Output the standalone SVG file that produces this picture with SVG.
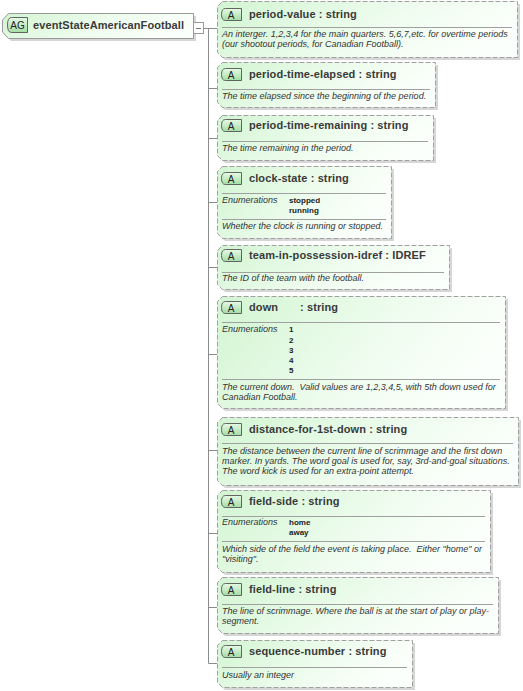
<svg xmlns="http://www.w3.org/2000/svg" width="523" height="691" viewBox="0 0 523 691">
<style>
.box{fill:url(#bg);stroke:#a0a0a0;stroke-width:1;stroke-dasharray:5 2}
.sh{fill:#d6d6d6}
.mainbox{fill:url(#bg);stroke:#9a9a9a;stroke-width:1}
.badge{fill:url(#bd);stroke:#555;stroke-width:0.9}
.bt{font-family:"Liberation Sans",Arial,sans-serif;font-size:10px;fill:#222;text-anchor:middle}
.t{font-family:"Liberation Sans",Arial,sans-serif;font-size:11px;font-weight:bold;fill:#3a3a3a;letter-spacing:0.1px}
.d{font-family:"Liberation Sans",Arial,sans-serif;font-size:9px;font-style:italic;fill:#333}
.e{font-family:"Liberation Sans",Arial,sans-serif;font-size:8px;font-weight:bold;fill:#222}
.sep{stroke:#a0a0a0;stroke-width:1}
.c{stroke:#8c8c8c;stroke-width:1;fill:none}
</style>
<defs>
<linearGradient id="bg" x1="0" y1="0" x2="1" y2="0.3">
<stop offset="0" stop-color="#d2f5d2"/>
<stop offset="0.6" stop-color="#eefcee"/>
<stop offset="1" stop-color="#fbfffb"/>
</linearGradient>
<linearGradient id="bd" x1="0" y1="0" x2="0" y2="1">
<stop offset="0" stop-color="#e6fae6"/>
<stop offset="1" stop-color="#a6dca6"/>
</linearGradient>
</defs>

<g id="connectors">
<line class="c" x1="203" y1="28.5" x2="217" y2="28.5"/>
<line class="c" x1="208.5" y1="28" x2="208.5" y2="663.5"/>
<line class="c" x1="208.5" y1="88.5" x2="217" y2="88.5"/>
<line class="c" x1="208.5" y1="138.5" x2="217" y2="138.5"/>
<line class="c" x1="208.5" y1="202.5" x2="217" y2="202.5"/>
<line class="c" x1="208.5" y1="267.5" x2="217" y2="267.5"/>
<line class="c" x1="208.5" y1="354.5" x2="217" y2="354.5"/>
<line class="c" x1="208.5" y1="450.5" x2="217" y2="450.5"/>
<line class="c" x1="208.5" y1="533.5" x2="217" y2="533.5"/>
<line class="c" x1="208.5" y1="607.5" x2="217" y2="607.5"/>
<line class="c" x1="208.5" y1="663.5" x2="217" y2="663.5"/>
</g>

<g id="eventStateAmericanFootball">
<path class="sh" d="M11 16 H196 V41 H11 L5 35 V23 Z"/>
<path class="mainbox" d="M8.5 13.5 H193.5 V38.5 H8.5 L2.5 32 V20 Z"/>
<path class="badge" d="M11.5 17.5 H27.5 V32.5 H11.5 Q7.5 32.5 7.5 25 Q7.5 17.5 11.5 17.5 Z"/>
<text class="bt" x="17.5" y="29">AG</text>
<text class="t" x="33" y="29">eventStateAmericanFootball</text>
<rect x="193.5" y="22.5" width="10" height="11" fill="#fff" stroke="#999"/>
<line x1="196" y1="28.5" x2="201" y2="28.5" stroke="#777"/>
</g>

<g id="period-value">
<path class="sh" d="M225 4 H520 V60 H225 L220 55 V9 Z"/>
<path class="box" d="M222.5 1.5 H517.5 V57.5 H222.5 L217.5 52.5 V6.5 Z"/>
<path class="badge" d="M225.5 8.5 H241.5 V20.5 H225.5 Q221.5 20.5 221.5 14.5 Q221.5 8.5 225.5 8.5 Z"/>
<text class="bt" x="231" y="18.5">A</text>
<text class="t" x="249" y="18">period-value : string</text>
<line class="sep" x1="222" y1="27.5" x2="512" y2="27.5"/>
<text class="d" x="222" y="37">An interger. 1,2,3,4 for the main quarters. 5,6,7,etc. for overtime periods</text>
<text class="d" x="222" y="47">(our shootout periods, for Canadian Football).</text>
</g>

<g id="period-time-elapsed">
<path class="sh" d="M225 65 H438 V110 H225 L220 105 V70 Z"/>
<path class="box" d="M222.5 62.5 H435.5 V107.5 H222.5 L217.5 102.5 V67.5 Z"/>
<path class="badge" d="M225.5 68.5 H241.5 V80.5 H225.5 Q221.5 80.5 221.5 74.5 Q221.5 68.5 225.5 68.5 Z"/>
<text class="bt" x="231" y="78.5">A</text>
<text class="t" x="249" y="78">period-time-elapsed : string</text>
<line class="sep" x1="222" y1="89.5" x2="430" y2="89.5"/>
<text class="d" x="222" y="99">The time elapsed since the beginning of the period.</text>
</g>

<g id="period-time-remaining">
<path class="sh" d="M225 118 H436 V163 H225 L220 158 V123 Z"/>
<path class="box" d="M222.5 115.5 H433.5 V160.5 H222.5 L217.5 155.5 V120.5 Z"/>
<path class="badge" d="M225.5 119.5 H241.5 V131.5 H225.5 Q221.5 131.5 221.5 125.5 Q221.5 119.5 225.5 119.5 Z"/>
<text class="bt" x="231" y="129.5">A</text>
<text class="t" x="249" y="129">period-time-remaining : string</text>
<line class="sep" x1="222" y1="141.5" x2="428" y2="141.5"/>
<text class="d" x="222" y="151">The time remaining in the period.</text>
</g>

<g id="clock-state">
<path class="sh" d="M225 169 H394 V241 H225 L220 236 V174 Z"/>
<path class="box" d="M222.5 166.5 H391.5 V238.5 H222.5 L217.5 233.5 V171.5 Z"/>
<path class="badge" d="M225.5 172.5 H241.5 V184.5 H225.5 Q221.5 184.5 221.5 178.5 Q221.5 172.5 225.5 172.5 Z"/>
<text class="bt" x="231" y="182.5">A</text>
<text class="t" x="249" y="182">clock-state : string</text>
<line class="sep" x1="222" y1="193.5" x2="386" y2="193.5"/>
<text class="d" x="222" y="203">Enumerations</text>
<text class="e" x="289" y="203">stopped</text>
<text class="e" x="289" y="213">running</text>
<line class="sep" x1="222" y1="219.5" x2="386" y2="219.5"/>
<text class="d" x="222" y="229">Whether the clock is running or stopped.</text>
</g>

<g id="team-in-possession-idref">
<path class="sh" d="M225 248 H452 V292 H225 L220 287 V253 Z"/>
<path class="box" d="M222.5 245.5 H449.5 V289.5 H222.5 L217.5 284.5 V250.5 Z"/>
<path class="badge" d="M225.5 249.5 H241.5 V261.5 H225.5 Q221.5 261.5 221.5 255.5 Q221.5 249.5 225.5 249.5 Z"/>
<text class="bt" x="231" y="259.5">A</text>
<text class="t" x="249" y="259">team-in-possession-idref : IDREF</text>
<line class="sep" x1="222" y1="272.5" x2="444" y2="272.5"/>
<text class="d" x="222" y="281">The ID of the team with the football.</text>
</g>

<g id="down">
<path class="sh" d="M225 299 H508 V411 H225 L220 406 V304 Z"/>
<path class="box" d="M222.5 296.5 H505.5 V408.5 H222.5 L217.5 403.5 V301.5 Z"/>
<path class="badge" d="M225.5 301.5 H241.5 V313.5 H225.5 Q221.5 313.5 221.5 307.5 Q221.5 301.5 225.5 301.5 Z"/>
<text class="bt" x="231" y="311.5">A</text>
<text class="t" x="249" y="311">down</text>
<text class="t" x="300" y="311">: string</text>
<line class="sep" x1="222" y1="322.5" x2="500" y2="322.5"/>
<text class="d" x="222" y="332">Enumerations</text>
<text class="e" x="289" y="332">1</text>
<text class="e" x="289" y="342.5">2</text>
<text class="e" x="289" y="353">3</text>
<text class="e" x="289" y="363">4</text>
<text class="e" x="289" y="373">5</text>
<line class="sep" x1="222" y1="379.5" x2="500" y2="379.5"/>
<text class="d" x="222" y="390" xml:space="preserve">The current down.  Valid values are 1,2,3,4,5, with 5th down used for</text>
<text class="d" x="222" y="400">Canadian Football.</text>
</g>

<g id="distance-for-1st-down">
<path class="sh" d="M225 420 H521 V488 H225 L220 483 V425 Z"/>
<path class="box" d="M222.5 417.5 H518.5 V485.5 H222.5 L217.5 480.5 V422.5 Z"/>
<path class="badge" d="M225.5 423.5 H241.5 V435.5 H225.5 Q221.5 435.5 221.5 429.5 Q221.5 423.5 225.5 423.5 Z"/>
<text class="bt" x="231" y="433.5">A</text>
<text class="t" x="249" y="433">distance-for-1st-down : string</text>
<line class="sep" x1="222" y1="443.5" x2="513" y2="443.5"/>
<text class="d" x="222" y="454">The distance between the current line of scrimmage and the first down</text>
<text class="d" x="222" y="464">marker. In yards. The word goal is used for, say, 3rd-and-goal situations.</text>
<text class="d" x="222" y="474">The word kick is used for an extra-point attempt.</text>
</g>

<g id="field-side">
<path class="sh" d="M225 493 H493 V575 H225 L220 570 V498 Z"/>
<path class="box" d="M222.5 490.5 H490.5 V572.5 H222.5 L217.5 567.5 V495.5 Z"/>
<path class="badge" d="M225.5 495.5 H241.5 V507.5 H225.5 Q221.5 507.5 221.5 501.5 Q221.5 495.5 225.5 495.5 Z"/>
<text class="bt" x="231" y="505.5">A</text>
<text class="t" x="249" y="505">field-side : string</text>
<line class="sep" x1="222" y1="516.5" x2="485" y2="516.5"/>
<text class="d" x="222" y="525">Enumerations</text>
<text class="e" x="289" y="525">home</text>
<text class="e" x="289" y="535">away</text>
<line class="sep" x1="222" y1="541.5" x2="485" y2="541.5"/>
<text class="d" x="222" y="552" xml:space="preserve">Which side of the field the event is taking place.  Either "home" or</text>
<text class="d" x="222" y="562">"visiting".</text>
</g>

<g id="field-line">
<path class="sh" d="M225 580 H501 V636 H225 L220 631 V585 Z"/>
<path class="box" d="M222.5 577.5 H498.5 V633.5 H222.5 L217.5 628.5 V582.5 Z"/>
<path class="badge" d="M225.5 583.5 H241.5 V595.5 H225.5 Q221.5 595.5 221.5 589.5 Q221.5 583.5 225.5 583.5 Z"/>
<text class="bt" x="231" y="593.5">A</text>
<text class="t" x="249" y="593">field-line : string</text>
<line class="sep" x1="222" y1="604.5" x2="493" y2="604.5"/>
<text class="d" x="222" y="614">The line of scrimmage. Where the ball is at the start of play or play-</text>
<text class="d" x="222" y="624">segment.</text>
</g>

<g id="sequence-number">
<path class="sh" d="M225 643 H415 V690 H225 L220 685 V648 Z"/>
<path class="box" d="M222.5 640.5 H412.5 V687.5 H222.5 L217.5 682.5 V645.5 Z"/>
<path class="badge" d="M225.5 645.5 H241.5 V657.5 H225.5 Q221.5 657.5 221.5 651.5 Q221.5 645.5 225.5 645.5 Z"/>
<text class="bt" x="231" y="655.5">A</text>
<text class="t" x="249" y="655">sequence-number : string</text>
<line class="sep" x1="222" y1="667.5" x2="407" y2="667.5"/>
<text class="d" x="222" y="678">Usually an integer</text>
</g>
</svg>
